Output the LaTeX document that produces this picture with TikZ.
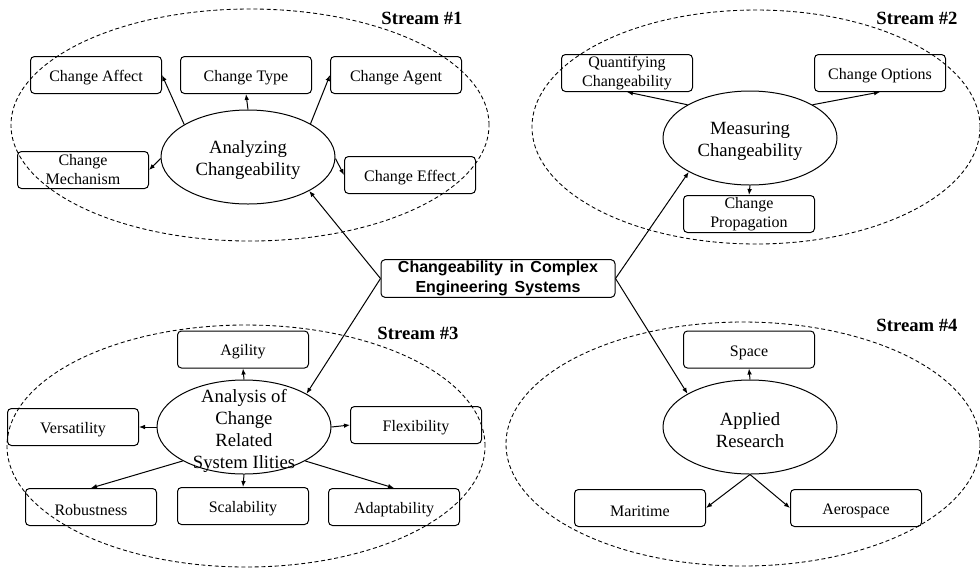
\documentclass[tikz,border=0pt]{standalone}
\usepackage{fontspec}
\setmainfont{Liberation Serif}
\newfontfamily\arialf{Liberation Sans}
\usetikzlibrary{shapes.geometric,arrows.meta}
\begin{document}
\begin{tikzpicture}[x=0.75pt,y=-0.75pt,
  stream/.style={draw, ellipse, dashed, line width=0.65pt, dash pattern=on 3pt off 2pt, inner sep=0pt},
  streamlbl/.style={font=\fontsize{14}{16}\selectfont\bfseries, inner sep=0pt},
  itembox/.style={draw, rounded corners=3pt, line width=0.75pt, minimum width=98.25pt, minimum height=27.75pt, align=center, inner sep=1pt, font=\fontsize{12}{14.25}\selectfont, execute at begin node={\rule{0pt}{12.3pt}}},
  ell/.style={draw, ellipse, line width=0.75pt, minimum width=130.5pt, minimum height=70.5pt, inner sep=0pt},
  elltext/.style={align=center, inner sep=0pt, yshift=-2.5pt, font=\fontsize{14}{16.5}\selectfont},
  centre/.style={draw, rounded corners=3pt, line width=0.75pt, minimum width=175.5pt, minimum height=27.75pt, align=center, inner sep=1pt, font=\arialf\bfseries\fontsize{12}{15}\selectfont, execute at begin node={\rule{0pt}{12.5pt}}},
  arr/.style={-{Latex[length=4.5pt,width=3.5pt]}, line width=0.75pt}]
\useasboundingbox (0,0) rectangle (980,569);

% stream regions
\node[stream, minimum width=358.5pt, minimum height=174pt] (s1) at (250,125) {};
\node[stream, minimum width=336pt, minimum height=175.5pt] (s2) at (756,127) {};
\node[stream, minimum width=358.5pt, minimum height=181.5pt] (s3) at (246,446) {};
\node[stream, minimum width=355.5pt, minimum height=183pt] (s4) at (743,444) {};

\node[streamlbl] (l1) at (422,18) {Stream \#1};
\node[streamlbl] (l2) at (917,18) {Stream \#2};
\node[streamlbl] (l3) at (418,333) {Stream \#3};
\node[streamlbl] (l4) at (917,325) {Stream \#4};

% centre
\node[centre] (c) at (498,278.5) {Changeability\hspace{5pt}in\hspace{5pt}Complex\\Engineering\hspace{5pt}Systems};

% stream 1
\node[ell] (e1) at (248,157) {};
\node[elltext] (e1t) at (e1) {Analyzing\\Changeability};
\node[itembox] (a1) at (96,75) {Change Affect};
\node[itembox] (a2) at (246,75) {Change Type};
\node[itembox] (a3) at (396,75) {Change Agent};
\node[itembox] (a4) at (83,170) {Change\\Mechanism};
\node[itembox] (a5) at (410,175) {Change Effect};
\draw[arr] (e1.153) -- (a1.east);
\draw[arr] (e1.90) -- (a2.south);
\draw[arr] (e1.28) -- (a3.west);
\draw[arr] (e1.181) -- (a4.east);
\draw[arr] (e1.-1) -- (a5.west);

% stream 2
\node[ell] (e2) at (750,138) {};
\node[elltext] (e2t) at (e2) {Measuring\\Changeability};
\node[itembox] (b1) at (627,73) {Quantifying\\Changeability};
\node[itembox] (b2) at (880,73) {Change Options};
\node[itembox] (b3) at (749,214) {Change\\Propagation};
\draw[arr] (e2.152) -- (b1.south);
\draw[arr] (e2.28) -- (b2.south);
\draw[arr] (e2.270) -- (b3.north);

% stream 3
\node[ell] (e3) at (244,427) {};
\node[elltext] (e3t) at (244,428) {Analysis of\\Change\\Related\\System Ilities};
\node[itembox] (g1) at (243,349.5) {Agility};
\node[itembox] (g2) at (73,427) {Versatility};
\node[itembox] (g3) at (416,425) {Flexibility};
\node[itembox] (g4) at (91,507) {Robustness};
\node[itembox] (g5) at (243,506) {Scalability};
\node[itembox] (g6) at (394,507) {Adaptability};
\draw[arr] (e3.90) -- (g1.south);
\draw[arr] (e3.180) -- (g2.east);
\draw[arr] (e3.0) -- (g3.west);
\draw[arr] (e3.209) -- (g4.north);
\draw[arr] (e3.270) -- (g5.north);
\draw[arr] (e3.-29) -- (g6.north);

% stream 4
\node[ell] (e4) at (750,427) {};
\node[elltext] (e4t) at (e4) {Applied\\Research};
\node[itembox] (h1) at (749,349.5) {Space};
\node[itembox] (h2) at (640,508) {Maritime};
\node[itembox] (h3) at (856,508) {Aerospace};
\draw[arr] (e4.90) -- (h1.south);
\draw[arr] (e4.270) -- (h2.east);
\draw[arr] (e4.270) -- (h3.west);

% centre connectors
\draw[arr] (c.west) -- (e1.-29);
\draw[arr] (c.west) -- (e3.28);
\draw[arr] (c.east) -- (e2.209);
\draw[arr] (c.east) -- (e4.152);
\end{tikzpicture}
\end{document}
